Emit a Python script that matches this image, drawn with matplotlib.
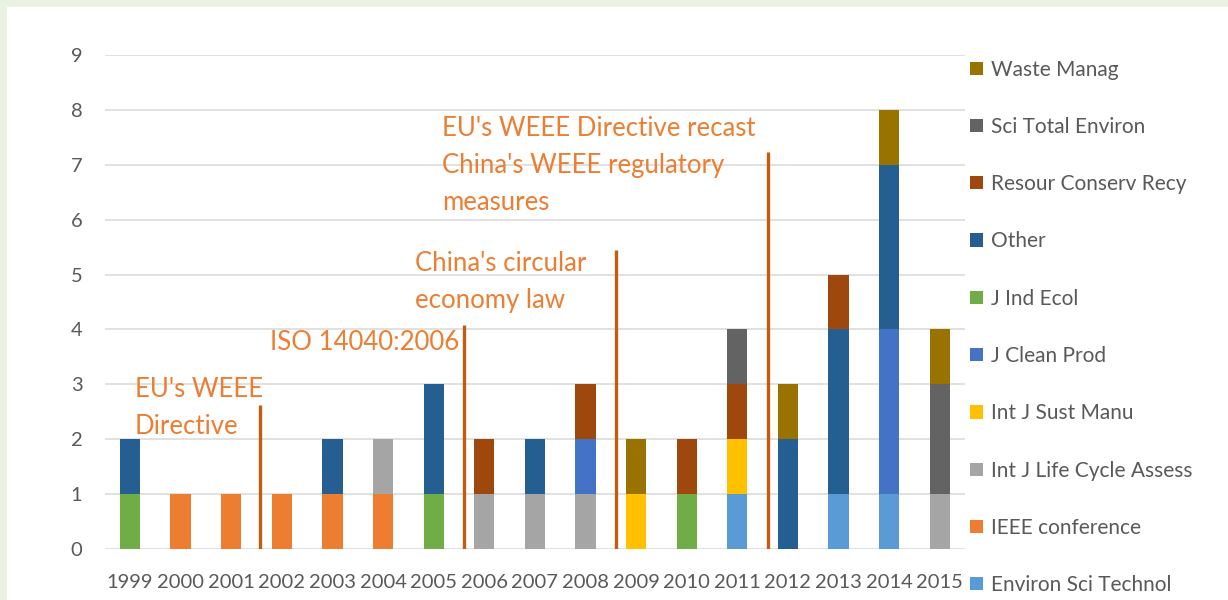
import matplotlib
matplotlib.use("Agg")
import matplotlib.pyplot as plt
from matplotlib.patches import Patch, Rectangle
import numpy as np

plt.rcParams['font.family'] = ['Lato', 'DejaVu Sans']

years = ['1999', '2000', '2001', '2002', '2003', '2004', '2005', '2006', '2007',
         '2008', '2009', '2010', '2011', '2012', '2013', '2014', '2015']

series_names = ['Environ Sci Technol', 'IEEE conference', 'Int J Life Cycle Assess',
                'Int J Sust Manu', 'J Clean Prod', 'J Ind Ecol', 'Other',
                'Resour Conserv Recy', 'Sci Total Environ', 'Waste Manag']

environ_sci_technol = [0, 0, 0, 0, 0, 0, 0, 0, 0, 0, 0, 0, 1, 0, 1, 1, 0]
ieee_conference     = [0, 1, 1, 1, 1, 1, 0, 0, 0, 0, 0, 0, 0, 0, 0, 0, 0]
int_j_lca           = [0, 0, 0, 0, 0, 1, 0, 1, 1, 1, 0, 0, 0, 0, 0, 0, 1]
int_j_sust_manu     = [0, 0, 0, 0, 0, 0, 0, 0, 0, 0, 1, 0, 1, 0, 0, 0, 0]
j_clean_prod        = [0, 0, 0, 0, 0, 0, 0, 0, 0, 1, 0, 0, 0, 0, 0, 3, 0]
j_ind_ecol          = [1, 0, 0, 0, 0, 0, 1, 0, 0, 0, 0, 1, 0, 0, 0, 0, 0]
other               = [1, 0, 0, 0, 1, 0, 2, 0, 1, 0, 0, 0, 0, 2, 3, 3, 0]
resour_conserv_recy = [0, 0, 0, 0, 0, 0, 0, 1, 0, 1, 0, 1, 1, 0, 1, 0, 0]
sci_total_environ   = [0, 0, 0, 0, 0, 0, 0, 0, 0, 0, 0, 0, 1, 0, 0, 0, 2]
waste_manag         = [0, 0, 0, 0, 0, 0, 0, 0, 0, 0, 1, 0, 0, 1, 0, 1, 1]

series_values = [environ_sci_technol, ieee_conference, int_j_lca, int_j_sust_manu,
                 j_clean_prod, j_ind_ecol, other, resour_conserv_recy,
                 sci_total_environ, waste_manag]

colors = ['#5B9BD5', '#ED7D31', '#A5A5A5', '#FFC000', '#4472C4', '#70AD47',
          '#255E91', '#9E480E', '#636363', '#997300']

# policy events: position between year categories, height of marker line
event_labels = ["EU's WEEE\nDirective", "ISO 14040:2006",
                "China's circular\neconomy law",
                "EU's WEEE Directive recast\nChina's WEEE regulatory\nmeasures"]
event_x = [2.57, 6.6, 9.6, 12.6]
event_top = [2.62, 4.08, 5.45, 7.23]
label_x = [0.1, 2.77, 5.64, 6.16]
label_y = [2.09, 3.62, 4.39, 6.17]   # baseline of last line

fig = plt.figure(figsize=(12.28, 6.0), dpi=100)
fig.patch.set_facecolor('#EAF2E2')
fig.add_artist(Rectangle((7 / 1228, 0), 1, 1 - 7 / 600, transform=fig.transFigure,
                         facecolor='white', edgecolor='none', zorder=0))

ax = fig.add_axes([104.7 / 1228, 1 - 549 / 600, (965 - 104.7) / 1228, (549 - 55) / 600])
ax.set_facecolor('none')

x = np.arange(len(years))
bottom = np.zeros(len(years))
for name, vals, c in zip(series_names, series_values, colors):
    v = np.array(vals, dtype=float)
    ax.bar(x, v, bottom=bottom, width=0.4, color=c, label=name, zorder=3)
    bottom += v

ax.set_xlim(-0.5, len(years) - 0.5)
ax.set_ylim(0, 9)
ax.set_yticks(range(0, 10))
ax.set_xticks(x)
ax.set_xticklabels(years)
ax.grid(axis='y', color='#D9D9D9', linewidth=1.1, zorder=0)
ax.set_axisbelow(True)
for s in ax.spines.values():
    s.set_visible(False)
ax.tick_params(axis='both', length=0, colors='#595959', labelsize=14.5)
ax.tick_params(axis='y', pad=16)
ax.tick_params(axis='x', pad=18)

for ex, et in zip(event_x, event_top):
    ax.plot([ex, ex], [0, et], color='#C55A11', linewidth=2.4, zorder=4,
            solid_capstyle='butt')

for lab, lx, ly in zip(event_labels, label_x, label_y):
    ax.text(lx, ly, lab, color='#ED7D31', fontsize=18.5, ha='left', va='baseline',
            linespacing=1.62, zorder=5)

handles = [Patch(facecolor=c, edgecolor='none', label=n)
           for n, c in zip(series_names, colors)][::-1]
fig.legend(handles=handles, loc='upper left', bbox_to_anchor=(970 / 1228, 1 - 59.5 / 600),
           frameon=False, fontsize=15, labelcolor='#595959',
           handlelength=0.6, handleheight=0.6, handletextpad=0.4,
           labelspacing=1.79, borderaxespad=0, borderpad=0)

fig.savefig('out.png', dpi=100, facecolor=fig.get_facecolor())
